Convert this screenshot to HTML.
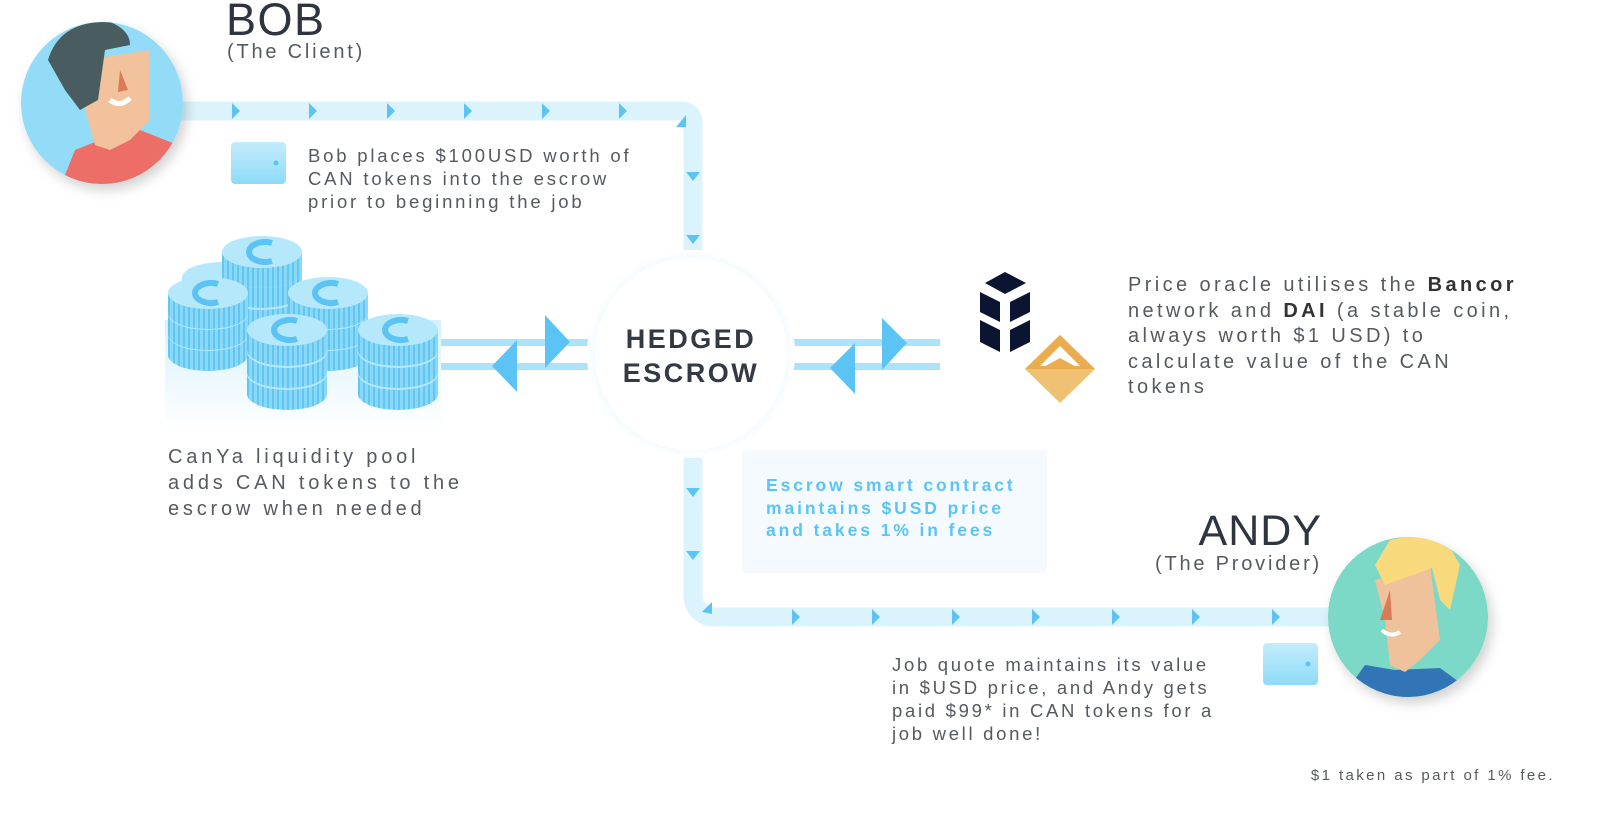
<!DOCTYPE html>
<html><head><meta charset="utf-8"><style>
html,body{margin:0;padding:0;background:#fff;}
body{width:1600px;height:816px;position:relative;overflow:hidden;font-family:"Liberation Sans",sans-serif;}
.t{position:absolute;color:#555a60;letter-spacing:1.2px;white-space:nowrap;}
</style></head><body>
<svg width="1600" height="816" style="position:absolute;left:0;top:0">
<defs>
<pattern id="st" width="5" height="10" patternUnits="userSpaceOnUse"><rect width="5" height="10" fill="#8ad8f8"/><rect width="2" height="10" fill="#62c6f3"/></pattern>
<g id="layer">
<path d="M-40 0 L-40 20 A40 16 0 0 0 40 20 L40 0 Z" fill="url(#st)"/>
<ellipse cx="0" cy="0" rx="40" ry="16" fill="#b6e8fb"/>
</g>
<g id="ctop">
<path d="M10 -9 A16 10 0 1 0 10 9" fill="none" stroke="#5bc4f5" stroke-width="6"/>
</g>
<radialGradient id="glow" cx="0.5" cy="0.5" r="0.5"><stop offset="0.85" stop-color="#eaf6fd"/><stop offset="1" stop-color="#fff"/></radialGradient>
<linearGradient id="pool" x1="0" y1="0" x2="0" y2="1"><stop offset="0" stop-color="#d6f1fc"/><stop offset="1" stop-color="#fff"/></linearGradient>
<linearGradient id="wal" x1="0" y1="0" x2="0" y2="1"><stop offset="0" stop-color="#c4ecfc"/><stop offset="1" stop-color="#8ddbf8"/></linearGradient>
<filter id="sh" x="-30%" y="-30%" width="160%" height="160%"><feDropShadow dx="4" dy="6" stdDeviation="6" flood-color="#000" flood-opacity="0.18"/></filter>
</defs>

<path d="M180 111 L682 111 A11 11 0 0 1 693 122 L693 250" fill="none" stroke="#dbf3fd" stroke-width="19"/>
<g fill="#5bc4f5">
<polygon points="232,103 240,111 232,119"/><polygon points="309,103 317,111 309,119"/><polygon points="387,103 395,111 387,119"/><polygon points="464,103 472,111 464,119"/><polygon points="542,103 550,111 542,119"/><polygon points="619,103 627,111 619,119"/>
<polygon points="676,127 686,115 686,127"/>
<polygon points="686,172 700,172 693,181"/><polygon points="686,235 700,235 693,244"/>
</g>
<path d="M693 455 L693 596 A21 21 0 0 0 714 617 L1345 617" fill="none" stroke="#dbf3fd" stroke-width="19"/>
<g fill="#5bc4f5">
<polygon points="686,488 700,488 693,497"/><polygon points="686,551 700,551 693,560"/>
<polygon points="702,612 712,602 712,614"/>
<polygon points="792,609 800,617 792,625"/><polygon points="872,609 880,617 872,625"/><polygon points="952,609 960,617 952,625"/><polygon points="1032,609 1040,617 1032,625"/><polygon points="1112,609 1120,617 1112,625"/><polygon points="1192,609 1200,617 1192,625"/><polygon points="1272,609 1280,617 1272,625"/>
</g>

<g fill="#ace3fa">
<rect x="440" y="339" width="155" height="7"/><rect x="440" y="363" width="155" height="7"/>
<rect x="790" y="339" width="150" height="7"/><rect x="790" y="363" width="150" height="7"/>
</g>
<g fill="#5bc4f5">
<polygon points="545,315 570,342 545,368"/><polygon points="517,340 492,366 517,392"/>
<polygon points="882,318 907,343 882,370"/><polygon points="855,343 830,368 855,394"/>
</g>

<circle cx="691" cy="354" r="104" fill="url(#glow)"/>
<circle cx="691" cy="354" r="96" fill="#fff"/>

<rect x="742" y="450" width="305" height="123" fill="#f4fafe"/>

<rect x="165" y="320" width="276" height="110" fill="url(#pool)"/>
<g>
<use href="#layer" x="222" y="324"/><use href="#layer" x="222" y="302"/><use href="#layer" x="222" y="278"/>
<use href="#layer" x="262" y="294"/><use href="#layer" x="262" y="272"/><use href="#layer" x="262" y="252"/>
<use href="#ctop" x="262" y="252"/>
<use href="#layer" x="208" y="335"/><use href="#layer" x="208" y="314"/><use href="#layer" x="208" y="293"/>
<use href="#ctop" x="208" y="293"/>
<use href="#layer" x="328" y="335"/><use href="#layer" x="328" y="314"/><use href="#layer" x="328" y="293"/>
<use href="#ctop" x="328" y="293"/>
<use href="#layer" x="287" y="374"/><use href="#layer" x="287" y="352"/><use href="#layer" x="287" y="330"/>
<use href="#ctop" x="287" y="330"/>
<use href="#layer" x="398" y="374"/><use href="#layer" x="398" y="352"/><use href="#layer" x="398" y="330"/>
<use href="#ctop" x="398" y="330"/>
</g>

<rect x="231" y="142" width="55" height="42" rx="4" fill="url(#wal)"/><circle cx="276" cy="163" r="2.5" fill="#5bc4f5"/>
<rect x="1263" y="643" width="55" height="42" rx="4" fill="url(#wal)"/><circle cx="1308" cy="664" r="2.5" fill="#5bc4f5"/>

<g filter="url(#sh)"><circle cx="102" cy="103" r="81" fill="#93dcf7"/></g>
<clipPath id="cb"><circle cx="102" cy="103" r="81"/></clipPath>
<g clip-path="url(#cb)">
<path d="M55 200 L75 150 L100 140 L140 130 L190 150 L190 200 Z" fill="#ec6e67"/>
<path d="M85 60 L150 50 L150 120 L130 140 L110 150 L95 145 L85 110 Z" fill="#f1c29b"/>
<path d="M48 60 Q60 20 110 22 Q130 30 130 45 L105 50 L98 100 L80 110 L65 90 Z" fill="#495c60"/>
<polygon points="120,70 128,90 118,92" fill="#d97b57"/>
<path d="M110 100 Q120 108 130 98" stroke="#fff" stroke-width="5" fill="none"/>
</g>

<g filter="url(#sh)"><circle cx="1408" cy="617" r="80" fill="#7bd8c7"/></g>
<clipPath id="ca"><circle cx="1408" cy="617" r="80"/></clipPath>
<g clip-path="url(#ca)">
<path d="M1340 700 L1365 665 L1395 670 L1440 668 L1470 690 L1470 710 L1340 710 Z" fill="#3175b6"/>
<path d="M1375 580 L1430 565 L1440 640 L1420 660 L1405 672 L1390 665 L1385 620 Z" fill="#f0c29b"/>
<path d="M1375 565 L1390 540 L1440 530 L1460 565 L1450 610 L1440 600 L1432 568 L1385 585 Z" fill="#f8d97c"/>
<polygon points="1390,590 1380,620 1392,620" fill="#d97b57"/>
<path d="M1382 630 Q1390 638 1400 632" stroke="#fff" stroke-width="4" fill="none"/>
</g>

<g fill="#0b1430">
<polygon points="1005,272 1026,283 1005,294 985,283"/>
<polygon points="980,292 1000,302 1000,322 980,312"/>
<polygon points="1030,292 1030,312 1010,322 1010,302"/>
<polygon points="980,320 1000,330 1000,352 980,342"/>
<polygon points="1030,320 1030,342 1010,352 1010,330"/>
</g>
<polygon points="1060,335 1095,369 1060,403 1025,369" fill="#f0c172"/>
<polygon points="1060,335 1095,369 1025,369" fill="#e9ac4f"/>
<polygon points="1060,346 1080,366 1040,366" fill="#fff"/>
<polygon points="1060,358 1080,369 1040,369" fill="#e9ac4f"/>
</svg>

<div class="t" style="left:226px;top:-6px;font-size:45px;color:#2e3540;letter-spacing:1.5px">BOB</div>
<div class="t" style="left:227px;top:41px;font-size:20px;letter-spacing:2.8px">(The Client)</div>
<div class="t" style="left:308px;top:144px;font-size:18.5px;line-height:23px;letter-spacing:2.8px">Bob places $100USD worth of<br>CAN tokens into the escrow<br>prior to beginning the job</div>
<div class="t" style="left:591px;top:322px;width:200px;text-align:center;font-size:27px;font-weight:bold;color:#333a44;letter-spacing:2.5px;line-height:34px">HEDGED<br>ESCROW</div>
<div class="t" style="left:168px;top:444px;font-size:20px;line-height:26px;letter-spacing:3.8px">CanYa liquidity pool<br>adds CAN tokens to the<br>escrow when needed</div>
<div class="t" style="left:1128px;top:273px;font-size:20px;line-height:25.5px;letter-spacing:3.4px">Price oracle utilises the <b style="color:#333">Bancor</b><br>network and <b style="color:#333">DAI</b> (a stable coin,<br>always worth $1 USD) to<br>calculate value of the CAN<br>tokens</div>
<div class="t" style="left:766px;top:474px;font-size:17.5px;line-height:22.5px;font-weight:bold;color:#5bc4f5;letter-spacing:2.9px">Escrow smart contract<br>maintains $USD price<br>and takes 1% in fees</div>
<div class="t" style="left:1100px;top:507px;width:222px;text-align:right;font-size:43px;color:#2e3540;letter-spacing:1px">ANDY</div>
<div class="t" style="left:1100px;top:553px;width:222px;text-align:right;font-size:20px;letter-spacing:2.8px">(The Provider)</div>
<div class="t" style="left:892px;top:653px;font-size:18.5px;line-height:23px;letter-spacing:2.7px">Job quote maintains its value<br>in $USD price, and Andy gets<br>paid $99* in CAN tokens for a<br>job well done!</div>
<div class="t" style="left:1255px;top:767px;width:300px;text-align:right;font-size:15px;letter-spacing:2.4px">$1 taken as part of 1% fee.</div>
</body></html>
